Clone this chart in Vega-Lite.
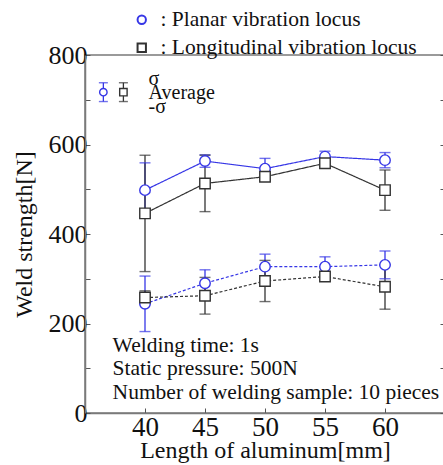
{
  "$schema": "https://vega.github.io/schema/vega-lite/v6.json",
  "autosize": {"type": "none"},
  "padding": {"left": 85, "top": 55, "right": 0, "bottom": 52},
  "width": 360,
  "height": 358,
  "background": "white",
  "config": {
    "font": "Liberation Serif",
    "view": {"stroke": "#7a7a7a", "strokeWidth": 1.5},
    "axis": {"grid": false, "domainColor": "#7a7a7a", "domainWidth": 1.5, "tickColor": "#555", "labelColor": "#111", "titleColor": "#111", "labelFont": "Liberation Serif", "titleFont": "Liberation Serif", "titleFontWeight": "normal"},
    "legend": {"labelFont": "Liberation Serif"}
  },
  "datasets": {
    "series": [
      {"length": 40, "locus": "Planar", "cond": "A", "mean": 498, "lo": 437, "hi": 559},
      {"length": 45, "locus": "Planar", "cond": "A", "mean": 563, "lo": 549, "hi": 577},
      {"length": 50, "locus": "Planar", "cond": "A", "mean": 546, "lo": 523, "hi": 569},
      {"length": 55, "locus": "Planar", "cond": "A", "mean": 573, "lo": 561, "hi": 585},
      {"length": 60, "locus": "Planar", "cond": "A", "mean": 565, "lo": 548, "hi": 582},
      {"length": 40, "locus": "Longitudinal", "cond": "A", "mean": 446, "lo": 316, "hi": 576},
      {"length": 45, "locus": "Longitudinal", "cond": "A", "mean": 513, "lo": 450, "hi": 576},
      {"length": 50, "locus": "Longitudinal", "cond": "A", "mean": 528, "lo": 520, "hi": 536},
      {"length": 55, "locus": "Longitudinal", "cond": "A", "mean": 558, "lo": 550, "hi": 566},
      {"length": 60, "locus": "Longitudinal", "cond": "A", "mean": 498, "lo": 453, "hi": 543},
      {"length": 40, "locus": "Planar", "cond": "B", "mean": 244, "lo": 182, "hi": 306},
      {"length": 45, "locus": "Planar", "cond": "B", "mean": 290, "lo": 260, "hi": 320},
      {"length": 50, "locus": "Planar", "cond": "B", "mean": 327, "lo": 299, "hi": 355},
      {"length": 55, "locus": "Planar", "cond": "B", "mean": 327, "lo": 305, "hi": 349},
      {"length": 60, "locus": "Planar", "cond": "B", "mean": 331, "lo": 300, "hi": 362},
      {"length": 40, "locus": "Longitudinal", "cond": "B", "mean": 258, "lo": 243, "hi": 273},
      {"length": 45, "locus": "Longitudinal", "cond": "B", "mean": 262, "lo": 221, "hi": 303},
      {"length": 50, "locus": "Longitudinal", "cond": "B", "mean": 295, "lo": 249, "hi": 341},
      {"length": 55, "locus": "Longitudinal", "cond": "B", "mean": 305, "lo": 295, "hi": 315},
      {"length": 60, "locus": "Longitudinal", "cond": "B", "mean": 282, "lo": 232, "hi": 332}
    ],
    "key": [
      {"length": 36.53, "locus": "Planar", "mean": 717, "lo": 696, "hi": 738},
      {"length": 38.2, "locus": "Longitudinal", "mean": 717, "lo": 696, "hi": 738}
    ],
    "notes": [
      {"length": 40.3, "value": 746, "text": "σ"},
      {"length": 40.3, "value": 714, "text": "Average"},
      {"length": 40.3, "value": 684, "text": "-σ"}
    ],
    "conditions": [
      {"length": 37.3, "value": 150, "text": "Welding time: 1s"},
      {"length": 37.3, "value": 98, "text": "Static pressure: 500N"},
      {"length": 37.3, "value": 45, "text": "Number of welding sample: 10 pieces"}
    ]
  },
  "resolve": {"axis": {"y": "independent"}, "legend": {"color": "independent", "shape": "independent"}},
  "layer": [
    {
      "data": {"name": "series"},
      "mark": {"type": "line", "strokeWidth": 1.2},
      "encoding": {
        "x": {"field": "length", "type": "quantitative", "scale": {"domain": [35, 65], "nice": false},
          "axis": {"values": [40, 45, 50, 55, 60], "title": "Length of aluminum[mm]", "labelFontSize": 27, "titleFontSize": 24, "tickSize": -5, "labelPadding": 6, "titlePadding": -2}},
        "y": {"field": "mean", "type": "quantitative", "scale": {"domain": [0, 800], "nice": false},
          "axis": {"values": [0, 100, 200, 300, 400, 500, 600, 700, 800], "labelExpr": "datum.value % 200 == 0 ? datum.label : ''", "title": "Weld strength[N]", "labelFontSize": 26, "titleFontSize": 24, "tickSize": -5, "labelPadding": 3, "titlePadding": 12}},
        "color": {"field": "locus", "type": "nominal", "scale": {"domain": ["Planar", "Longitudinal"], "range": ["#3636e6", "#333333"]}, "legend": null},
        "strokeDash": {"field": "cond", "type": "nominal", "scale": {"domain": ["A", "B"], "range": [[1, 0], [3, 2]]}, "legend": null},
        "detail": {"field": "cond"}
      }
    },
    {
      "data": {"name": "series"},
      "mark": {"type": "rule", "strokeWidth": 1.3},
      "encoding": {
        "x": {"field": "length", "type": "quantitative"},
        "y": {"field": "lo", "type": "quantitative", "axis": {"orient": "right", "values": [0, 100, 200, 300, 400, 500, 600, 700, 800], "labels": false, "title": null, "tickSize": -5, "domain": false}},
        "y2": {"field": "hi"},
        "color": {"field": "locus", "type": "nominal", "legend": null}
      }
    },
    {
      "data": {"name": "series"},
      "mark": {"type": "tick", "orient": "horizontal", "size": 11, "thickness": 1.4},
      "encoding": {
        "x": {"field": "length", "type": "quantitative"},
        "y": {"field": "lo", "type": "quantitative", "axis": null},
        "color": {"field": "locus", "type": "nominal", "legend": null}
      }
    },
    {
      "data": {"name": "series"},
      "mark": {"type": "tick", "orient": "horizontal", "size": 11, "thickness": 1.4},
      "encoding": {
        "x": {"field": "length", "type": "quantitative"},
        "y": {"field": "hi", "type": "quantitative", "axis": null},
        "color": {"field": "locus", "type": "nominal", "legend": null}
      }
    },
    {
      "data": {"name": "key"},
      "mark": {"type": "rule", "strokeWidth": 1.3},
      "encoding": {
        "x": {"field": "length", "type": "quantitative"},
        "y": {"field": "lo", "type": "quantitative", "axis": null},
        "y2": {"field": "hi"},
        "color": {"field": "locus", "type": "nominal", "legend": null}
      }
    },
    {
      "data": {"name": "key"},
      "mark": {"type": "tick", "orient": "horizontal", "size": 9, "thickness": 1.4},
      "encoding": {
        "x": {"field": "length", "type": "quantitative"},
        "y": {"field": "lo", "type": "quantitative", "axis": null},
        "color": {"field": "locus", "type": "nominal", "legend": null}
      }
    },
    {
      "data": {"name": "key"},
      "mark": {"type": "tick", "orient": "horizontal", "size": 9, "thickness": 1.4},
      "encoding": {
        "x": {"field": "length", "type": "quantitative"},
        "y": {"field": "hi", "type": "quantitative", "axis": null},
        "color": {"field": "locus", "type": "nominal", "legend": null}
      }
    },
    {
      "data": {"name": "key"},
      "mark": {"type": "point", "filled": false, "fill": "white", "fillOpacity": 1, "strokeWidth": 1.4, "size": 55, "opacity": 1},
      "encoding": {
        "x": {"field": "length", "type": "quantitative"},
        "y": {"field": "mean", "type": "quantitative", "axis": null},
        "color": {"field": "locus", "type": "nominal", "legend": null},
        "shape": {"field": "locus", "type": "nominal", "scale": {"domain": ["Planar", "Longitudinal"], "range": ["circle", "square"]}, "legend": null}
      }
    },
    {
      "data": {"name": "series"},
      "mark": {"type": "point", "filled": false, "fill": "white", "fillOpacity": 1, "strokeWidth": 1.4, "size": 110, "opacity": 1},
      "encoding": {
        "x": {"field": "length", "type": "quantitative"},
        "y": {"field": "mean", "type": "quantitative", "axis": null},
        "color": {"field": "locus", "type": "nominal",
          "legend": {"orient": "none", "legendX": 46, "legendY": -46, "title": null, "padding": 0, "symbolSize": 70, "symbolStrokeWidth": 2, "labelFont": "Liberation Serif", "labelFontSize": 21.5, "labelLimit": 0, "labelOffset": 8, "rowPadding": 5, "labelColor": "#111", "labelExpr": "': ' + datum.label + ' vibration locus'"}},
        "shape": {"field": "locus", "type": "nominal",
          "legend": {"orient": "none", "legendX": 46, "legendY": -46, "title": null, "padding": 0, "symbolSize": 70, "symbolStrokeWidth": 2, "labelFont": "Liberation Serif", "labelFontSize": 21.5, "labelLimit": 0, "labelOffset": 8, "rowPadding": 5, "labelColor": "#111", "labelExpr": "': ' + datum.label + ' vibration locus'"}}
      }
    },
    {
      "data": {"name": "notes"},
      "mark": {"type": "text", "align": "left", "baseline": "middle", "fontSize": 20, "color": "#111"},
      "encoding": {
        "x": {"field": "length", "type": "quantitative"},
        "y": {"field": "value", "type": "quantitative", "axis": null},
        "text": {"field": "text"}
      }
    },
    {
      "data": {"name": "conditions"},
      "mark": {"type": "text", "align": "left", "baseline": "middle", "fontSize": 21.5, "color": "#111"},
      "encoding": {
        "x": {"field": "length", "type": "quantitative"},
        "y": {"field": "value", "type": "quantitative", "axis": null},
        "text": {"field": "text"}
      }
    }
  ]
}
